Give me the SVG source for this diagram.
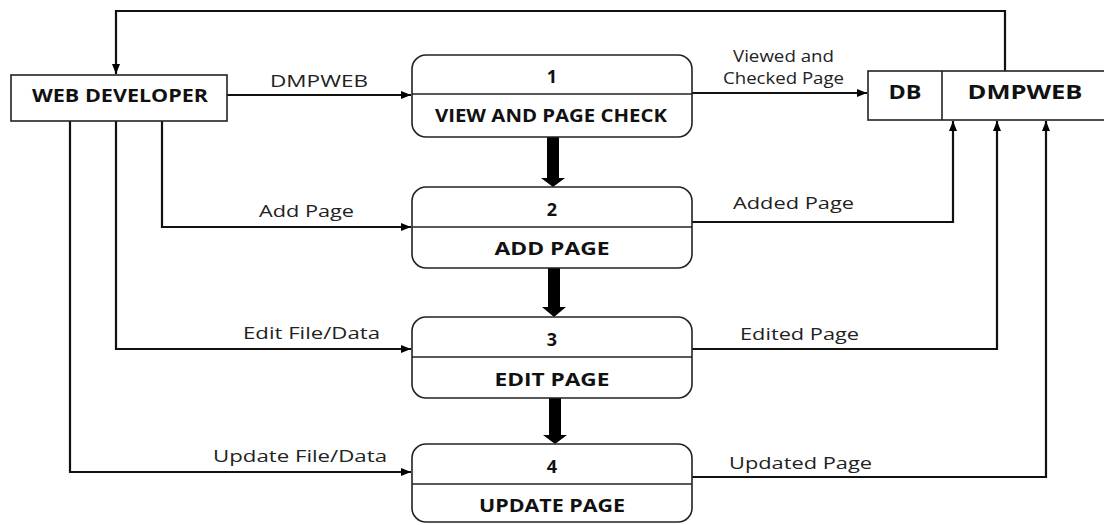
<svg xmlns="http://www.w3.org/2000/svg" width="1104" height="525" viewBox="0 0 1104 525">
<defs>
<marker id="ah" viewBox="0 0 10 8" refX="10" refY="4" markerWidth="10" markerHeight="8" markerUnits="userSpaceOnUse" orient="auto">
<path d="M0,0 L10,4 L0,8 Z" fill="#000"/>
</marker>
<style>
.box{fill:#fff;stroke:#222;stroke-width:1.6}
.ln{fill:none;stroke:#111;stroke-width:2.2}
.fl{fill:none;stroke:#111;stroke-width:2.2;marker-end:url(#ah)}
.big{fill:#000}
text{font-family:"Open Sans","Liberation Sans",sans-serif;fill:#111}
.b{font-weight:bold;font-size:18px;text-anchor:middle}
.l{font-size:17px;fill:#222}
</style>
</defs>
<rect width="1104" height="525" fill="#fff"/>
<g id="connectors">
<path class="fl" d="M1005,71 V11 H116 V74"/>
<path class="fl" d="M227,95 H411"/>
<path class="fl" d="M162,121 V227 H411"/>
<path class="fl" d="M116,121 V349 H411"/>
<path class="fl" d="M70,121 V472 H411"/>
<path class="fl" d="M692,93 H867"/>
<path class="fl" d="M692,222 H953 V121"/>
<path class="fl" d="M692,349 H997 V121"/>
<path class="fl" d="M692,477 H1046 V121"/>
<polygon class="big" points="547,137 559,137 559,178 565,178 553,187 541,178 547,178"/>
<polygon class="big" points="548,268 560,268 560,307 566,307 554,317 542,307 548,307"/>
<polygon class="big" points="549,398 561,398 561,435 567,435 555,444 543,435 549,435"/>
<text class="l" x="270" y="87" textLength="98" lengthAdjust="spacingAndGlyphs">DMPWEB</text>
<text class="l" x="259" y="217" textLength="95" lengthAdjust="spacingAndGlyphs">Add Page</text>
<text class="l" x="243" y="339" textLength="137" lengthAdjust="spacingAndGlyphs">Edit File/Data</text>
<text class="l" x="213" y="462" textLength="174" lengthAdjust="spacingAndGlyphs">Update File/Data</text>
<text class="l" x="733" y="62" textLength="101" lengthAdjust="spacingAndGlyphs" style="font-size:16px">Viewed and</text>
<text class="l" x="723" y="84" textLength="121" lengthAdjust="spacingAndGlyphs" style="font-size:16px">Checked Page</text>
<text class="l" x="733" y="209" textLength="121" lengthAdjust="spacingAndGlyphs">Added Page</text>
<text class="l" x="740" y="340" textLength="119" lengthAdjust="spacingAndGlyphs">Edited Page</text>
<text class="l" x="729" y="469" textLength="143" lengthAdjust="spacingAndGlyphs">Updated Page</text>
</g>
<g id="web-developer">
<rect class="box" x="11" y="75" width="216" height="46"/>
<text class="b" x="120" y="102" textLength="176" lengthAdjust="spacingAndGlyphs">WEB DEVELOPER</text>
</g>
<g id="p1">
<rect class="box" x="412" y="55" width="280" height="82" rx="14"/>
<line class="box" x1="412" y1="94" x2="692" y2="94"/>
<text class="b" x="552" y="83">1</text>
<text class="b" x="551" y="122" textLength="232" lengthAdjust="spacingAndGlyphs">VIEW AND PAGE CHECK</text>
</g>
<g id="p2">
<rect class="box" x="412" y="187" width="280" height="81" rx="14"/>
<line class="box" x1="412" y1="227" x2="692" y2="227"/>
<text class="b" x="552" y="216">2</text>
<text class="b" x="552" y="255" textLength="115" lengthAdjust="spacingAndGlyphs">ADD PAGE</text>
</g>
<g id="p3">
<rect class="box" x="412" y="317" width="280" height="81" rx="14"/>
<line class="box" x1="412" y1="357" x2="692" y2="357"/>
<text class="b" x="552" y="346">3</text>
<text class="b" x="552" y="386" textLength="115" lengthAdjust="spacingAndGlyphs">EDIT PAGE</text>
</g>
<g id="p4">
<rect class="box" x="412" y="444" width="280" height="78" rx="14"/>
<line class="box" x1="412" y1="484" x2="692" y2="484"/>
<text class="b" x="552" y="473">4</text>
<text class="b" x="552" y="512" textLength="146" lengthAdjust="spacingAndGlyphs">UPDATE PAGE</text>
</g>
<g id="datastore">
<rect class="box" x="868" y="71" width="250" height="49"/>
<line class="box" x1="942" y1="71" x2="942" y2="120"/>
<text class="b" x="905" y="99" style="font-size:19px" textLength="33" lengthAdjust="spacingAndGlyphs">DB</text>
<text class="b" x="1025" y="99" style="font-size:19px" textLength="115" lengthAdjust="spacingAndGlyphs">DMPWEB</text>
</g>
</svg>
